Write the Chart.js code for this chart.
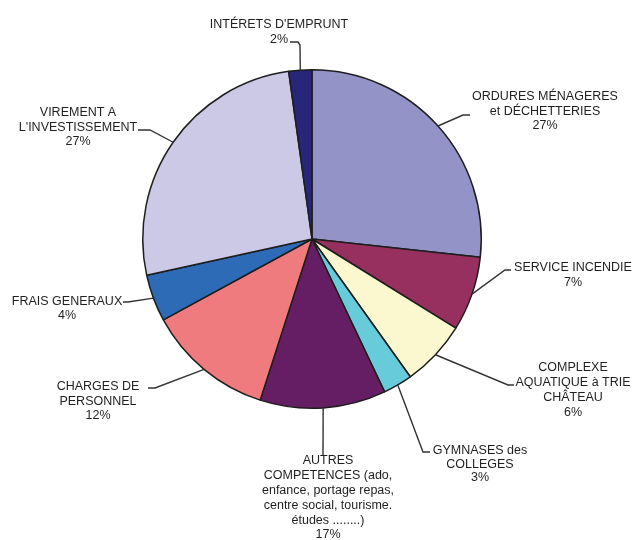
<!DOCTYPE html>
<html lang="fr">
<head>
<meta charset="utf-8">
<title>Répartition des dépenses</title>
<script src="https://cdn.jsdelivr.net/npm/chart.js@4/dist/chart.umd.min.js"></script>
<style>
    html, body { margin: 0; padding: 0; background: #fff; }
    #wrap { width: 635px; height: 540px; position: relative; }
</style>
</head>
<body>
<div id="wrap"><canvas id="pieChart"></canvas></div>
<script>
// === Données ===
const categories = [
    "ORDURES MÉNAGERES et DÉCHETTERIES",
    "SERVICE INCENDIE",
    "COMPLEXE AQUATIQUE à TRIE CHÂTEAU",
    "GYMNASES des COLLEGES",
    "AUTRES COMPETENCES",
    "CHARGES DE PERSONNEL",
    "FRAIS GENERAUX",
    "VIREMENT A L'INVESTISSEMENT",
    "INTÉRETS D'EMPRUNT"
];
// parts mesurées sur le dessin (en %)
const values = [26.7, 7.1, 6.3, 2.8, 12.0, 12.1, 4.5, 26.2, 2.2];
// textes des étiquettes tels qu'affichés
const labelLines = [
    ["ORDURES MÉNAGERES", "et DÉCHETTERIES", "27%"],
    ["SERVICE INCENDIE", "7%"],
    ["COMPLEXE", "AQUATIQUE à TRIE", "CHÂTEAU", "6%"],
    ["GYMNASES des", "COLLEGES", "3%"],
    ["AUTRES", "COMPETENCES (ado,", "enfance, portage repas,", "centre social, tourisme.", "études ........)", "17%"],
    ["CHARGES DE", "PERSONNEL", "12%"],
    ["FRAIS GENERAUX", "4%"],
    ["VIREMENT A", "L'INVESTISSEMENT", "27%"],
    ["INTÉRETS D'EMPRUNT", "2%"]
];
const colors = [
    "#9393c7", "#97305f", "#fbf8d0", "#68cbd9", "#651e64",
    "#f07b7f", "#2d6bb6", "#cbc9e6", "#27267a"
];

// === Placement des étiquettes (coude du trait, fin du trait, texte) ===
const labelLayout = [
    { elbow: [463, 115], end: [470, 115], tx: 545, ty: 97, lh: 14.5 },
    { elbow: [505, 270], end: [511, 270], tx: 573, ty: 268, lh: 15 },
    { elbow: [508, 385], end: [514, 385], tx: 573, ty: 368, lh: 14.7 },
    { elbow: [423, 452], end: [430, 452], tx: 480, ty: 451, lh: 13.5 },
    { elbow: [323, 455], end: [323, 455], tx: 328, ty: 461, lh: 14.8 },
    { elbow: [155, 388], end: [148, 388], tx: 98, ty: 387, lh: 14.5 },
    { elbow: [128, 302], end: [123, 302], tx: 67, ty: 302, lh: 13.5 },
    { elbow: [150, 130], end: [138, 130], tx: 78, ty: 113, lh: 14.5 },
    { elbow: [300, 42], end: [290, 42], tx: 279, ty: 25, lh: 15 }
];

// === Plugin : traits de rappel + textes ===
const leaderLabels = {
    id: "leaderLabels",
    afterDraw(chart) {
        const ctx = chart.ctx;
        const meta = chart.getDatasetMeta(0);
        ctx.save();
        meta.data.forEach((arc, i) => {
            const p = arc.getProps(["x", "y", "startAngle", "endAngle", "outerRadius"], true);
            const mid = (p.startAngle + p.endAngle) / 2;
            const ex = p.x + Math.cos(mid) * p.outerRadius;
            const ey = p.y + Math.sin(mid) * p.outerRadius;
            const lay = labelLayout[i];

            ctx.strokeStyle = "#333";
            ctx.lineWidth = 1.4;
            ctx.beginPath();
            ctx.moveTo(ex, ey);
            if (i === 8) {
                ctx.lineTo(lay.elbow[0], lay.elbow[1] + 3);
                ctx.lineTo(lay.elbow[0] - 2, lay.elbow[1]);
                ctx.lineTo(lay.end[0], lay.end[1]);
            } else {
                ctx.lineTo(lay.elbow[0], lay.elbow[1]);
                ctx.lineTo(lay.end[0], lay.end[1]);
            }
            ctx.stroke();

            ctx.fillStyle = "#1f1f1f";
            ctx.font = "12.5px 'Liberation Sans', Arial, sans-serif";
            ctx.textAlign = "center";
            ctx.textBaseline = "middle";
            labelLines[i].forEach((line, k) => {
                ctx.fillText(line, lay.tx, lay.ty + k * lay.lh);
            });
        });
        ctx.restore();
    }
};

// === Diagramme ===
const ctx = document.getElementById("pieChart").getContext("2d");
new Chart(ctx, {
    type: "pie",
    data: {
        labels: categories,
        datasets: [
            {
                data: values,
                backgroundColor: colors,
                borderColor: "#1e1e1e",
                borderWidth: 1.5,
            },
        ],
    },
    options: {
        responsive: true,
        maintainAspectRatio: false,
        animation: false,
        layout: {
            padding: { top: 69, bottom: 131, left: 0, right: 11 },
        },
        plugins: {
            legend: { display: false },
            tooltip: { enabled: false },
        },
    },
    plugins: [leaderLabels],
});
</script>
</body>
</html>
